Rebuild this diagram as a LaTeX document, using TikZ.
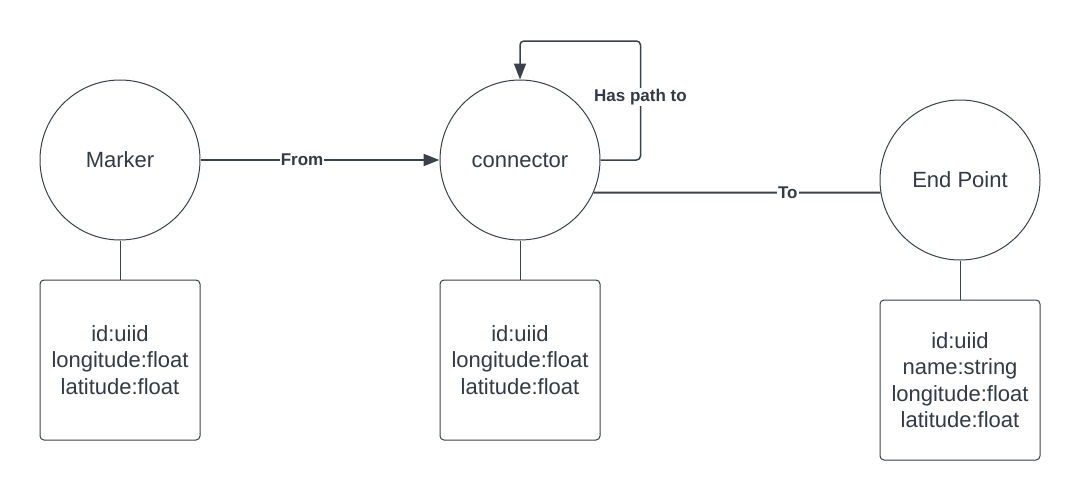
\documentclass[tikz,border=0pt]{standalone}
\usepackage{fontspec}
\setmainfont{Liberation Sans}
\usetikzlibrary{arrows.meta}
\definecolor{ln}{HTML}{3A414A}
\definecolor{tx}{HTML}{333A45}
\tikzset{
  circ/.style={circle,draw=ln,line width=1pt,minimum size=160pt,inner sep=0pt,text=tx,font=\fontsize{22}{26}\selectfont},
  attr/.style={rectangle,draw=ln,line width=1pt,rounded corners=4pt,minimum width=160pt,minimum height=160pt,inner sep=0pt,align=center,text=tx,font=\fontsize{22}{26.5}\selectfont},
  conn/.style={draw=ln,line width=2pt},
  loopln/.style={draw=ln,line width=1.5pt,rounded corners=4pt},
  lk/.style={draw=ln,line width=1pt},
  lbl/.style={fill=white,inner sep=1pt,text=tx,font=\fontsize{17}{19}\bfseries},
  arr/.style={-{Triangle[length=16pt,width=12pt]}}
}
\begin{document}
\begin{tikzpicture}[x=1pt,y=-1pt]
\useasboundingbox[fill=white] (0,0) rectangle (1080,501);
\node[circ] (marker) at (120,160) {Marker};
\node[circ] (conn) at (520,160) {connector};
\node[circ] (ep) at (960,180) {End Point};
\node[attr] (mbox) at (120,360) {id:uiid\\longitude:float\\latitude:float};
\node[attr] (cbox) at (520,360) {id:uiid\\longitude:float\\latitude:float};
\node[attr] (ebox) at (960,380) {id:uiid\\name:string\\longitude:float\\latitude:float};
\draw[lk] (marker.south) -- (mbox.north);
\draw[lk] (conn.south) -- (cbox.north);
\draw[lk] (ep.south) -- (ebox.north);
\draw[conn,arr] (marker.east) -- node[lbl,pos=0.425]{From} (conn.west);
\draw[conn] (conn.-24.4) -- node[lbl,pos=0.677]{To} (ep.189.35);
\draw[loopln,arr] (conn.east) -- ++(40,0) -- node[lbl,pos=0.53]{Has path to} ++(0,-119) -| (conn.north);
\end{tikzpicture}
\end{document}
